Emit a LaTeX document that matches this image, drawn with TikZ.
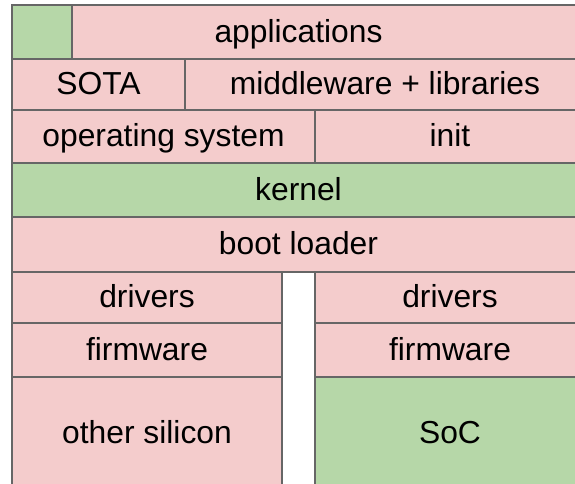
\documentclass[tikz,border=0pt]{standalone}
\usepackage{fontspec}
\setmainfont{Liberation Sans}
\usetikzlibrary{positioning}

\definecolor{swpink}{HTML}{F4CCCC}
\definecolor{hwgreen}{HTML}{B6D7A8}
\definecolor{edgegray}{HTML}{666666}

\tikzset{
    layer/.style={draw=edgegray, line width=1.8pt, fill=swpink, rectangle,
        inner sep=0pt, outer sep=0pt, text height=20.5pt, text depth=0pt,
        font=\fontsize{31.8}{38}\selectfont},
    ownlayer/.style={layer, fill=hwgreen}
}

\begin{document}
\begin{tikzpicture}[x=1pt, y=-1pt]
            \clip (0, 0) rectangle (575, 484);

            % software stack
            \node[layer, minimum width=573pt, minimum height=54pt] (apps) at (298.5, 32) {applications};
            \node[ownlayer, minimum width=60pt, minimum height=54pt] (appcorner) at (42, 32) {};
            \node[layer, minimum width=173pt, minimum height=51pt] (sota) at (98.5, 84.5) {SOTA};
            \node[layer, minimum width=400pt, minimum height=51pt] (middleware) at (385, 84.5) {middleware + libraries};
            \node[layer, minimum width=303pt, minimum height=53pt] (os) at (163.5, 136.5) {operating system};
            \node[layer, minimum width=270pt, minimum height=53pt] (init) at (450, 136.5) {init};
            \node[ownlayer, minimum width=573pt, minimum height=54pt] (kernel) at (298.5, 190) {kernel};
            \node[layer, minimum width=573pt, minimum height=55pt] (boot) at (298.5, 244.5) {boot loader};

            % two hardware columns
            \node[layer, minimum width=270pt, minimum height=51pt] (drivers_l) at (147, 297.5) {drivers};
            \node[layer, minimum width=270pt, minimum height=51pt] (drivers_r) at (450, 297.5) {drivers};
            \node[layer, minimum width=270pt, minimum height=54pt] (firmware_l) at (147, 350) {firmware};
            \node[layer, minimum width=270pt, minimum height=54pt] (firmware_r) at (450, 350) {firmware};
            \node[layer, minimum width=270pt, minimum height=113pt] (silicon) at (147, 433.5) {other silicon};
            \node[ownlayer, minimum width=270pt, minimum height=113pt] (soc) at (450, 433.5) {SoC};
\end{tikzpicture}
\end{document}
